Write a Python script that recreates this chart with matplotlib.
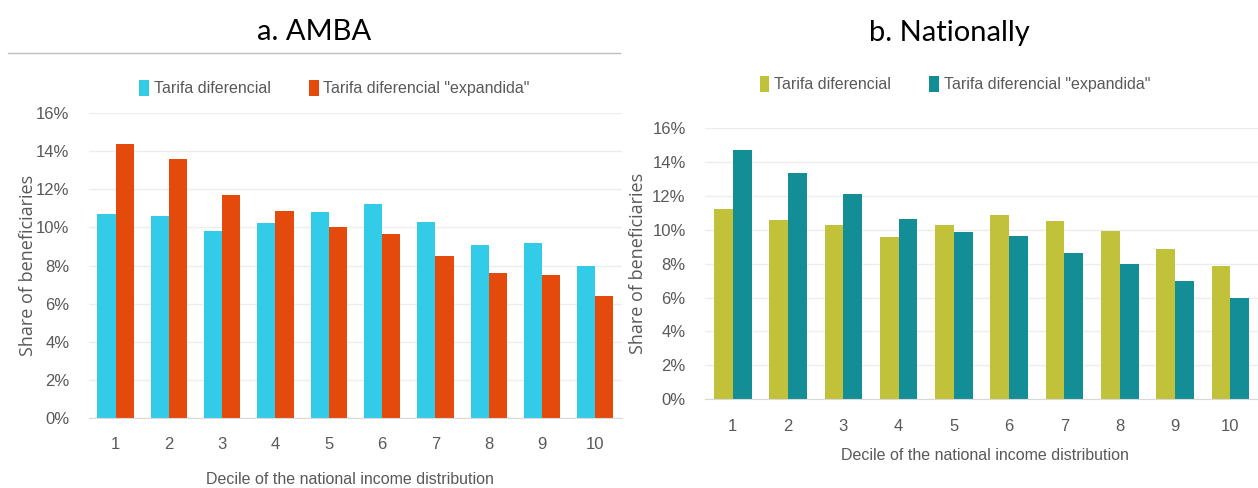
# Share of beneficiaries by income decile, AMBA vs national
import matplotlib.pyplot as plt
import numpy as np
from matplotlib.ticker import PercentFormatter

deciles = ['1', '2', '3', '4', '5', '6', '7', '8', '9', '10']
series_names = ['Tarifa diferencial', 'Tarifa diferencial "expandida"']

amba_td = [10.7, 10.6, 9.8, 10.25, 10.8, 11.25, 10.3, 9.1, 9.2, 8.0]
amba_exp = [14.4, 13.6, 11.7, 10.85, 10.0, 9.65, 8.5, 7.6, 7.5, 6.4]

nat_td = [11.2, 10.6, 10.3, 9.55, 10.3, 10.9, 10.5, 9.9, 8.85, 7.85]
nat_exp = [14.7, 13.35, 12.1, 10.65, 9.85, 9.65, 8.65, 8.0, 6.95, 6.0]

narrow = ['Liberation Sans', 'DejaVu Sans']
grey = '#595959'
H = 488.0

fig = plt.figure(figsize=(12.58, 4.88), dpi=100)

def panel(rect, v1, v2, colors, title, cx, title_x, leg_x, title_y, legend_y, xlabel_y, ylab_x):
    ax = fig.add_axes(rect)
    x = np.arange(1, len(deciles) + 1)
    w = 0.34
    ax.bar(x - w/2, v1, w, color=colors[0], label=series_names[0], zorder=2)
    ax.bar(x + w/2, v2, w, color=colors[1], label=series_names[1], zorder=2)
    ax.set_xlim(0.5, 10.5)
    ax.set_ylim(0, 16)
    ax.set_yticks(range(0, 17, 2))
    ax.yaxis.set_major_formatter(PercentFormatter(decimals=0))
    ax.set_xticks(x)
    ax.set_xticklabels(deciles)
    ax.grid(axis='y', color='#EDEDED', lw=1, zorder=0)
    for s in ['top', 'right', 'left']:
        ax.spines[s].set_visible(False)
    ax.spines['bottom'].set_color('#D9D9D9')
    ax.tick_params(length=0, labelsize=12, colors=grey)
    ax.tick_params(axis='y', pad=14)
    ax.tick_params(axis='x', pad=14)
    for t in ax.get_xticklabels() + ax.get_yticklabels():
        t.set_family(narrow)
    ax.set_ylabel('Share of beneficiaries', fontsize=13, color=grey, family='Open Sans')
    ax.yaxis.set_label_coords(ylab_x, 0.5)
    leg = fig.legend(*ax.get_legend_handles_labels(), loc='center',
                     bbox_to_anchor=(leg_x, 1 - legend_y / H), ncol=2, frameon=False,
                     handlelength=0.6, handleheight=1.2, handletextpad=0.3, columnspacing=2.4,
                     prop={'family': narrow, 'size': 11.5})
    for t in leg.get_texts():
        t.set_color(grey)
    fig.text(cx, 1 - xlabel_y / H, 'Decile of the national income distribution',
             ha='center', va='center', fontsize=11.5, color=grey, family=narrow)
    fig.text(title_x, 1 - title_y / H, title, ha='center', va='center',
             fontsize=21, color='black', family='Lato')
    return ax

ax1 = panel([0.0707, 0.1434, 0.4237, 0.625], amba_td, amba_exp, ['#33CCE8', '#E34A0B'],
            'a. AMBA', 0.278, 0.250, 0.266, 32, 88, 480, -0.097)
ax2 = panel([0.5605, 0.182, 0.4395, 0.5555], nat_td, nat_exp, ['#C1C13A', '#138E96'],
            'b. Nationally', 0.783, 0.755, 0.759, 33, 84, 456, -0.105)

# grey rule under the first title
fig.add_artist(plt.Line2D([0.006, 0.493], [1 - 53/H, 1 - 53/H], color='#BFBFBF', lw=1))

fig.savefig('out.png', dpi=100, facecolor='white')
